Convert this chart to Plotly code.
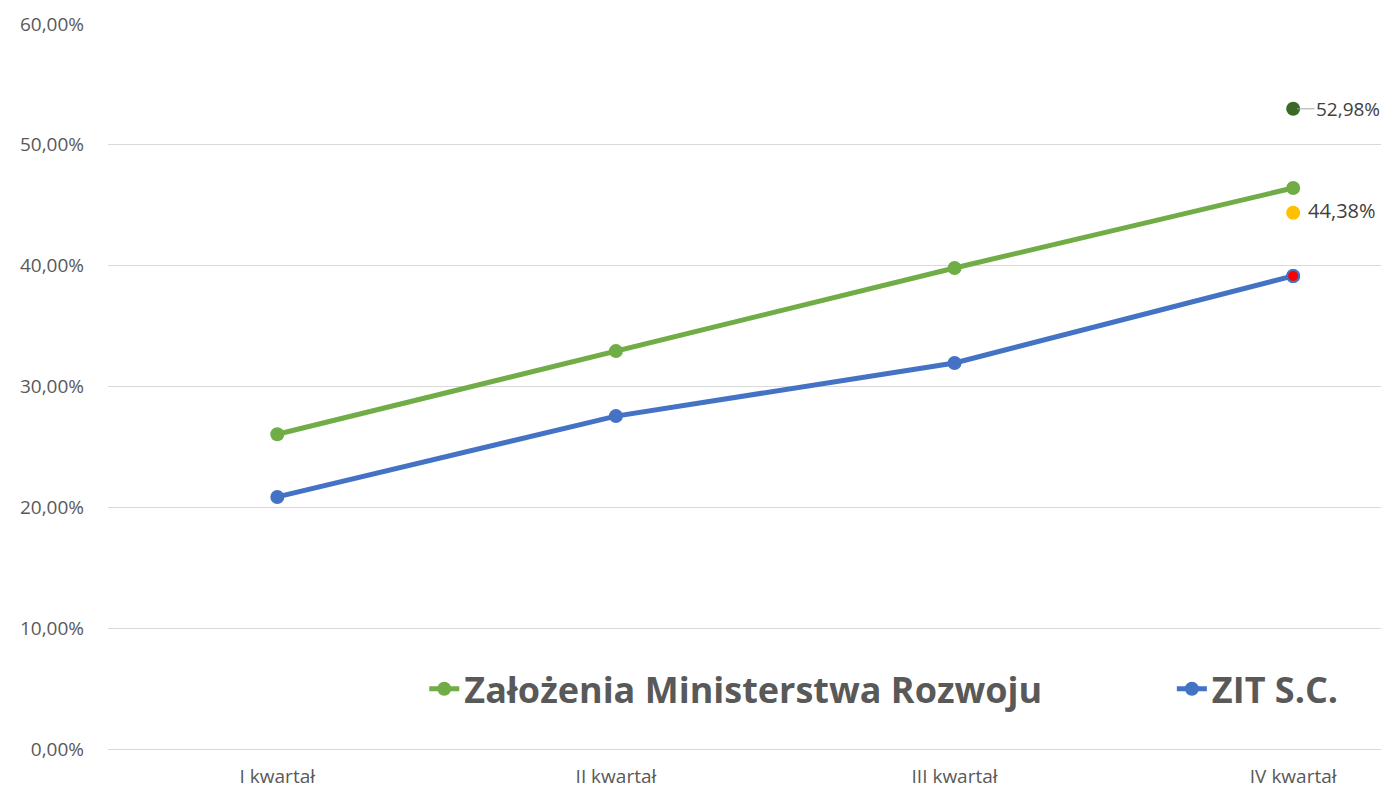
import plotly.graph_objects as go

categories = ["I kwartał", "II kwartał", "III kwartał", "IV kwartał"]
ministry = [0.2605, 0.3293, 0.3981, 0.4643]
zit = [0.2086, 0.2755, 0.3195, 0.3915]
target_high = 0.5298
target_mid = 0.4438

GREEN = "#70AD47"
BLUE = "#4472C4"
GREY = "#595959"
FONT = "Open Sans"

fig = go.Figure()
fig.add_trace(go.Scatter(
    x=categories, y=ministry, mode="lines+markers", name="Założenia Ministerstwa Rozwoju",
    line=dict(color=GREEN, width=5), marker=dict(color=GREEN, size=14),
    legend="legend"))
fig.add_trace(go.Scatter(
    x=categories, y=zit, mode="lines+markers", name="ZIT S.C.",
    line=dict(color=BLUE, width=5), marker=dict(color=BLUE, size=14),
    legend="legend2"))
fig.add_trace(go.Scatter(
    x=[categories[-1]], y=[zit[-1]], mode="markers", showlegend=False,
    marker=dict(color="#FF0000", size=12, line=dict(color=BLUE, width=2))))
fig.add_trace(go.Scatter(
    x=[categories[-1]], y=[target_mid], mode="markers+text", showlegend=False,
    marker=dict(color="#FFC000", size=14),
    text=[" " + f"{target_mid*100:.2f}%".replace(".", ",")], textposition="middle right",
    textfont=dict(family=FONT, size=20, color="#404040")))
fig.add_trace(go.Scatter(
    x=[categories[-1]], y=[target_high], mode="markers", showlegend=False,
    marker=dict(color="#3B6A27", size=14)))
fig.add_annotation(
    x=categories[-1], y=target_high, text=f"{target_high*100:.2f}%".replace(".", ","),
    showarrow=True, arrowhead=0, arrowwidth=1, arrowcolor="#A6A6A6",
    ax=55, ay=0, standoff=4, xanchor="center",
    font=dict(family=FONT, size=19, color="#404040"))

fig.update_layout(
    width=1381, height=780,
    margin=dict(l=100, r=0, t=16, b=39),
    paper_bgcolor="white", plot_bgcolor="white",
    separators=", ",
    font=dict(family=FONT, color=GREY),
    legend=dict(orientation="h", x=0.2469, xanchor="left", y=0.083, yanchor="middle",
                font=dict(family=FONT, size=36, color=GREY, weight="bold"),
                bgcolor="rgba(0,0,0,0)"),
    legend2=dict(orientation="h", x=0.8305, xanchor="left", y=0.083, yanchor="middle",
                 font=dict(family=FONT, size=36, color=GREY, weight="bold"),
                 bgcolor="rgba(0,0,0,0)"),
)
fig.update_xaxes(
    range=[-0.5, 3.283], showgrid=False, showline=True, linecolor="#D9D9D9", linewidth=1,
    ticks="", tickfont=dict(family=FONT, size=19, color=GREY), zeroline=False,
    automargin=False, ticklabelstandoff=10)
fig.update_yaxes(
    range=[0, 0.6], tickvals=[0, 0.1, 0.2, 0.3, 0.4, 0.5, 0.6], tickformat=".2%",
    showgrid=True, gridcolor="#D9D9D9", gridwidth=1, zeroline=False,
    ticks="", ticklabelstandoff=23, automargin=False,
    tickfont=dict(family=FONT, size=19, color=GREY))

fig.write_html("out.html")
